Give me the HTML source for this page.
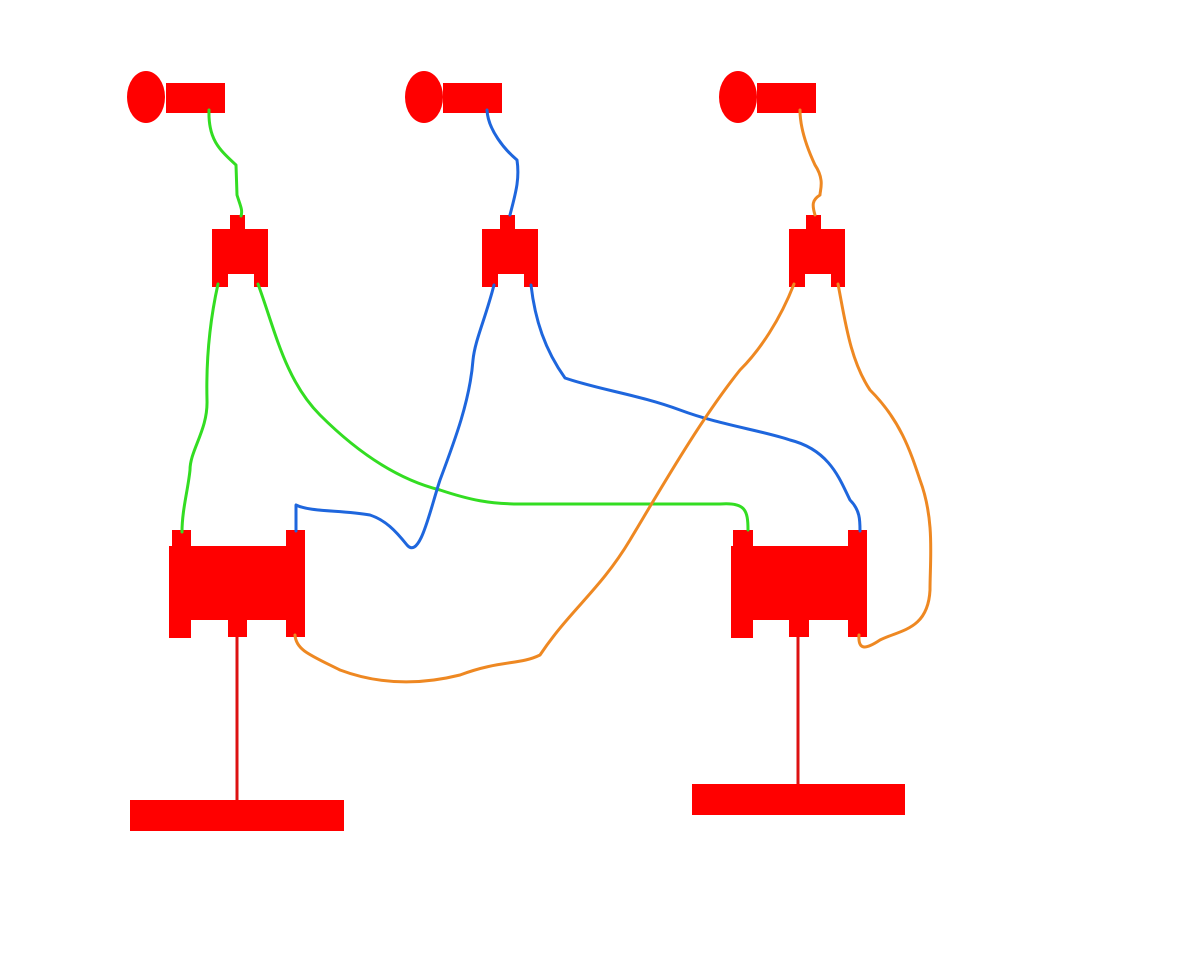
<!DOCTYPE html>
<html><head><style>html,body{margin:0;padding:0;background:#fff}svg{display:block}</style></head>
<body>
<svg width="1200" height="960" viewBox="0 0 1200 960" xmlns="http://www.w3.org/2000/svg">
<g fill="#ff0000">
<ellipse cx="146" cy="97" rx="19" ry="26"/><rect x="166" y="83" width="59" height="30"/>
<ellipse cx="424" cy="97" rx="19" ry="26"/><rect x="443" y="83" width="59" height="30"/>
<ellipse cx="738" cy="97" rx="19" ry="26"/><rect x="757" y="83" width="59" height="30"/>
<rect x="230" y="215" width="15" height="15"/><rect x="212" y="229" width="56" height="45"/><rect x="212" y="273" width="16" height="14"/><rect x="254" y="273" width="14" height="14"/>
<rect x="500" y="215" width="15" height="15"/><rect x="482" y="229" width="56" height="45"/><rect x="482" y="273" width="16" height="14"/><rect x="524" y="273" width="14" height="14"/>
<rect x="806" y="215" width="15" height="15"/><rect x="789" y="229" width="56" height="45"/><rect x="789" y="273" width="16" height="14"/><rect x="831" y="273" width="14" height="14"/>
<rect x="172" y="530" width="19" height="17"/><rect x="286" y="530" width="19" height="17"/><rect x="169" y="546" width="136" height="74"/>
<rect x="169" y="619" width="22" height="19"/><rect x="228" y="619" width="19" height="18"/><rect x="286" y="619" width="19" height="18"/>
<rect x="733" y="530" width="20" height="17"/><rect x="848" y="530" width="19" height="17"/><rect x="731" y="546" width="136" height="74"/>
<rect x="731" y="619" width="22" height="19"/><rect x="789" y="619" width="20" height="18"/><rect x="848" y="619" width="19" height="18"/>
<rect x="130" y="800" width="214" height="31"/>
<rect x="692" y="784" width="213" height="31"/>
</g>
<g stroke="#d11" stroke-width="3" fill="none">
<line x1="237" y1="637" x2="237" y2="800"/><line x1="798" y1="637" x2="798" y2="784"/>
</g>
<g fill="none" stroke-width="3" stroke-linecap="round" stroke-linejoin="round">
<path stroke="#33dd22" d="M209 110 C208 140 220 150 236 165 L237 195 C240 205 243 210 241 216"/>
<path stroke="#33dd22" d="M218 284 C210 320 206 360 207 400 C208 430 190 450 190 470 C188 490 182 510 182 532"/>
<path stroke="#33dd22" d="M258 284 C275 330 285 380 320 415 C360 455 400 480 440 490 C470 500 490 504 520 504 L720 504 C745 502 748 510 748 530"/>
<path stroke="#1e66dd" d="M487 110 C488 130 505 150 517 160 C520 180 515 195 510 215"/>
<path stroke="#1e66dd" d="M494 285 C485 320 475 340 473 360 C470 400 455 440 440 480 C430 510 420 560 407 545 C395 530 385 520 370 515 C340 510 310 512 296 505 L296 531"/>
<path stroke="#1e66dd" d="M531 285 C535 320 545 350 565 378 C600 390 640 395 680 410 C720 425 760 430 790 440 C830 450 840 480 850 500 C860 510 860 520 860 531"/>
<path stroke="#ee8822" d="M800 110 C800 130 808 150 815 165 C825 180 820 190 820 195 C812 200 812 205 815 215"/>
<path stroke="#ee8822" d="M794 284 C780 320 760 350 740 370 C700 420 660 490 630 540 C600 590 570 610 540 655 C520 665 500 660 460 675 C420 685 380 685 340 670 C310 655 296 650 295 635"/>
<path stroke="#ee8822" d="M838 284 C845 320 850 360 870 390 C900 420 910 450 920 480 C935 520 930 560 930 590 C928 630 900 630 880 640 C865 650 858 650 859 635"/>
</g>
</svg>
</body></html>
